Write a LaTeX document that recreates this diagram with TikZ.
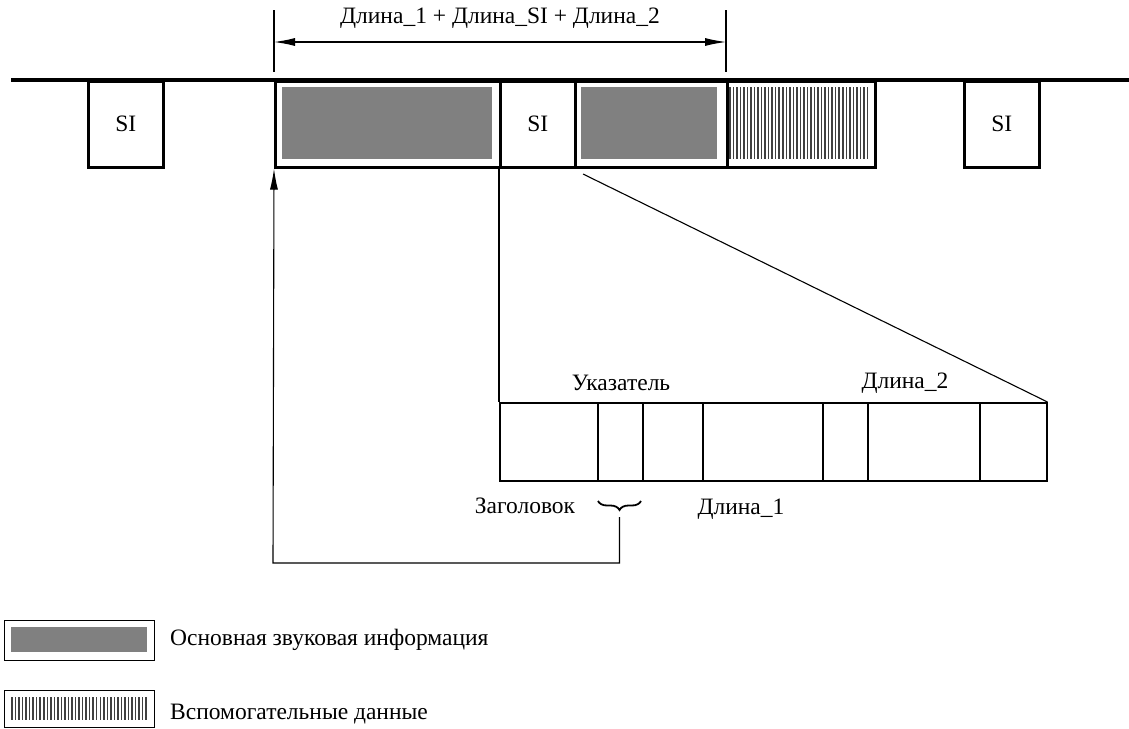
\documentclass[tikz,border=0pt]{standalone}
\usepackage{fontspec}
\setmainfont{Liberation Serif}
\newfontfamily\tnr{Liberation Serif}
\usetikzlibrary{arrows.meta,decorations.pathreplacing}
\tikzset{
  box/.style={draw, line width=2.6pt, minimum width=#1, minimum height=86pt, inner sep=0pt, anchor=north west, font=\tnr\fontsize{23.5}{26}\selectfont},
  cell/.style={draw, line width=1.5pt, minimum width=#1, minimum height=78pt, inner sep=0pt, anchor=north west},
  lbl/.style={inner sep=0pt, font=\tnr\fontsize{23.5}{26}\selectfont},
  thin/.style={line width=1.1pt},
  arr/.style={-{Latex[length=21pt,width=8pt]}, line width=1.1pt},
  audio/.style={fill=gray, draw=none},
  hatch/.style={line width=1.5pt, draw=black!75},
}
\begin{document}
\begin{tikzpicture}[x=1pt,y=-1pt]
\useasboundingbox (0,0) rectangle (1129,728);
% boxes on the stream
\node[box=75pt] (si1) at (87,80) {SI};
\node[box=225pt] (blkA) at (274,80) {};
\node[box=75pt] (si2) at (499,80) {SI};
\node[box=152pt] (blkB) at (574,80) {};
\node[box=148pt] (aux) at (726,80) {};
\node[box=75pt] (si3) at (963,80) {SI};
\fill[audio] (282,87) rectangle (492,159);
\fill[audio] (581,87) rectangle (717,159);
\foreach \i in {0,...,39} \draw[hatch] (729.8+\i*3.53,87) -- (729.8+\i*3.53,159);
% stream line
\coordinate (lineL) at (11,80);
\coordinate (lineR) at (1129,80);
\draw[line width=4pt] (lineL) -- (lineR);
% dimension
\coordinate (dimLt) at (274,10);
\coordinate (dimLb) at (274,72);
\coordinate (dimRt) at (726,10);
\coordinate (dimRb) at (726,72);
\draw[thin] (dimLt) -- (dimLb);
\draw[thin] (dimRt) -- (dimRb);
\coordinate (dimA) at (274,42);
\coordinate (dimB) at (726,42);
\draw[thin, {Latex[length=21pt,width=8pt]}-{Latex[length=21pt,width=8pt]}] (dimA) -- (dimB);
\node[lbl] (dimtext) at (500,18) {Длина\_1 + Длина\_SI + Длина\_2};
% table
\node[cell=98pt] (c1) at (499,402) {};
\node[cell=45pt] (c2) at (597,402) {};
\node[cell=60pt] (c3) at (642,402) {};
\node[cell=120pt] (c4) at (702,402) {};
\node[cell=45pt] (c5) at (822,402) {};
\node[cell=112pt] (c6) at (867,402) {};
\node[cell=67pt] (c7) at (979,402) {};
% connectors
\draw[thin] (si2.south west) -- (c1.north west);
\coordinate (slantA) at (583,174);
\draw[thin] (slantA) -- (c7.north east);
% labels
\node[lbl] (ptr) at (621,383) {Указатель};
\node[lbl] (len2) at (905,383) {Длина\_2};
\node[lbl] (hdr) at (525,506) {Заголовок};
\node[lbl] (len1) at (741,509) {Длина\_1};
% brace
\draw[line width=1.8pt, decorate, decoration={brace, amplitude=9pt, mirror}] (598,501) -- (641,501);
\coordinate (braceTip) at (619.5,517);
\coordinate (corner1) at (619.5,563);
\coordinate (corner2) at (273,563);
\draw[arr] (braceTip) -- (corner1) -- (corner2) -- (blkA.south west);
% legend
\node[draw, line width=1.2pt, minimum width=150pt, minimum height=40pt, inner sep=0pt, anchor=north west] (leg1) at (4,620) {};
\fill[audio] (11,627) rectangle (147,652);
\node[draw, line width=1.2pt, minimum width=150pt, minimum height=37pt, inner sep=0pt, anchor=north west] (leg2) at (4,690) {};
\foreach \i in {0,...,38} \draw[hatch] (12+\i*3.53,697) -- (12+\i*3.53,720);
\node[lbl, anchor=west] (legt1) at (170,640) {Основная звуковая информация};
\node[lbl, anchor=west] (legt2) at (170,714) {Вспомогательные данные};
\end{tikzpicture}
\end{document}
